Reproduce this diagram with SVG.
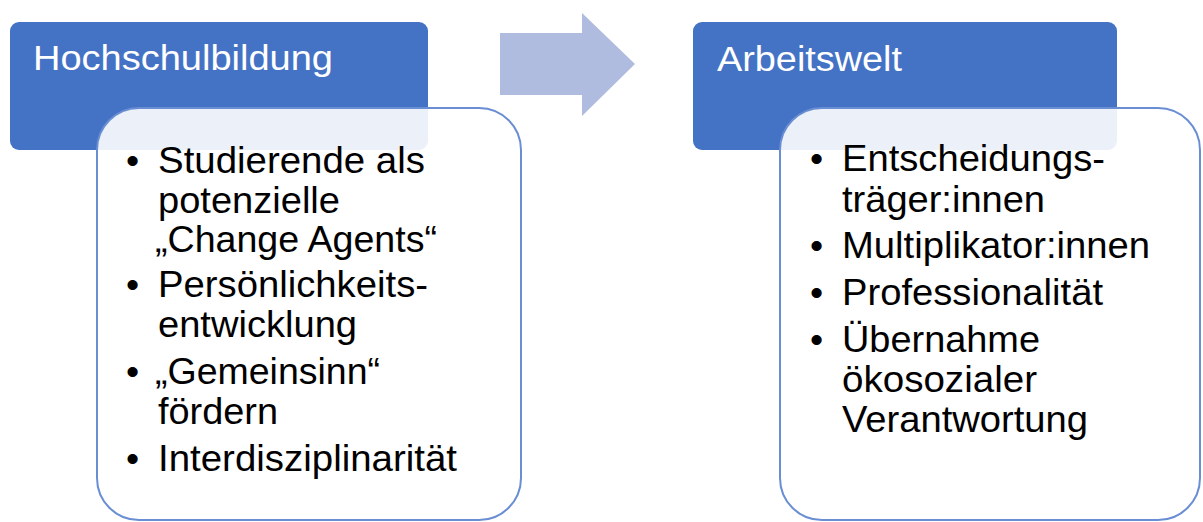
<svg xmlns="http://www.w3.org/2000/svg" width="1203" height="522" viewBox="0 0 1203 522">
<style>
.hdr{fill:#4472C4}
.body{fill:#FFFFFF;fill-opacity:0.9;stroke:#6A8ED3;stroke-width:2}
.ht{font-family:"Liberation Sans",Arial,sans-serif;font-size:35px;fill:#FFFFFF}
.bt{font-family:"Liberation Sans",Arial,sans-serif;font-size:37.5px;fill:#000000}
.arrow{fill:#AFBCE0}
</style>
<rect width="1203" height="522" fill="#FFFFFF"/>
<g id="connectors">
<polygon class="arrow" points="500,33 582,33 582,13 635,64 582,116 582,95 500,95"/>
</g>
<g id="hochschulbildung">
<rect class="hdr" x="10" y="22" width="418" height="128" rx="9"/>
<text class="ht" x="33" y="70" textLength="300" lengthAdjust="spacingAndGlyphs">Hochschulbildung</text>
</g>
<g id="hochschulbildung-details">
<rect class="body" x="97" y="108" width="424" height="412" rx="42"/>
<text class="bt" x="126" y="173">•</text>
<text class="bt" x="158" y="173" textLength="267" lengthAdjust="spacingAndGlyphs">Studierende als</text>
<text class="bt" x="158" y="213" textLength="182" lengthAdjust="spacingAndGlyphs">potenzielle</text>
<text class="bt" x="155" y="252" textLength="282" lengthAdjust="spacingAndGlyphs">„Change Agents“</text>
<text class="bt" x="126" y="297">•</text>
<text class="bt" x="158" y="297" textLength="270" lengthAdjust="spacingAndGlyphs">Persönlichkeits-</text>
<text class="bt" x="158" y="337" textLength="199" lengthAdjust="spacingAndGlyphs">entwicklung</text>
<text class="bt" x="126" y="384">•</text>
<text class="bt" x="155" y="384" textLength="225" lengthAdjust="spacingAndGlyphs">„Gemeinsinn“</text>
<text class="bt" x="158" y="424" textLength="120" lengthAdjust="spacingAndGlyphs">fördern</text>
<text class="bt" x="126" y="471">•</text>
<text class="bt" x="158" y="471" textLength="299" lengthAdjust="spacingAndGlyphs">Interdisziplinarität</text>
</g>
<g id="arbeitswelt">
<rect class="hdr" x="693" y="22" width="424" height="128" rx="9"/>
<text class="ht" x="717" y="71" textLength="185" lengthAdjust="spacingAndGlyphs">Arbeitswelt</text>
</g>
<g id="arbeitswelt-details">
<rect class="body" x="780" y="108" width="420" height="412" rx="42"/>
<text class="bt" x="810" y="171">•</text>
<text class="bt" x="842" y="171" textLength="263" lengthAdjust="spacingAndGlyphs">Entscheidungs-</text>
<text class="bt" x="842" y="212" textLength="203" lengthAdjust="spacingAndGlyphs">träger:innen</text>
<text class="bt" x="810" y="258">•</text>
<text class="bt" x="842" y="258" textLength="308" lengthAdjust="spacingAndGlyphs">Multiplikator:innen</text>
<text class="bt" x="810" y="305">•</text>
<text class="bt" x="842" y="305" textLength="261" lengthAdjust="spacingAndGlyphs">Professionalität</text>
<text class="bt" x="810" y="352">•</text>
<text class="bt" x="842" y="352" textLength="198" lengthAdjust="spacingAndGlyphs">Übernahme</text>
<text class="bt" x="842" y="392" textLength="195" lengthAdjust="spacingAndGlyphs">ökosozialer</text>
<text class="bt" x="842" y="432" textLength="246" lengthAdjust="spacingAndGlyphs">Verantwortung</text>
</g>
</svg>
